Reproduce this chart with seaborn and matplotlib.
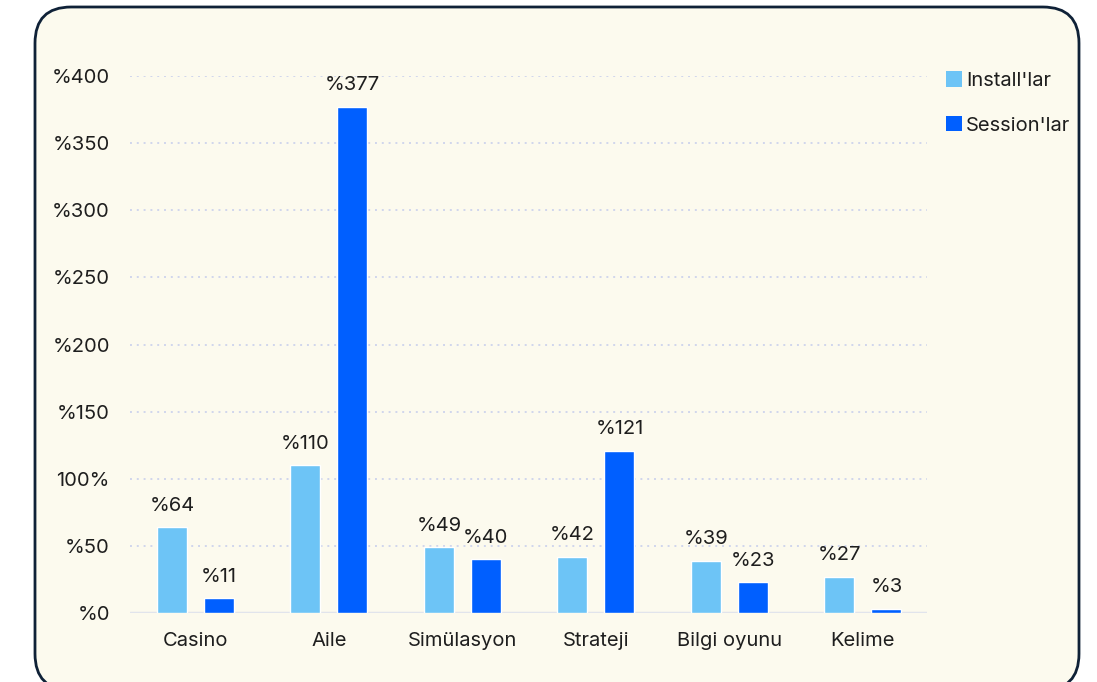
import matplotlib
matplotlib.use("Agg")
import matplotlib.pyplot as plt
from matplotlib.patches import FancyBboxPatch, Patch
import seaborn as sns
import pandas as pd

categories = ["Casino", "Aile", "Simülasyon", "Strateji", "Bilgi oyunu", "Kelime"]
installs = [64, 110, 49, 42, 39, 27]
sessions = [11, 377, 40, 121, 23, 3]
series_names = ["Install'lar", "Session'lar"]
y_ticks = [0, 50, 100, 150, 200, 250, 300, 350, 400]
y_tick_labels = ["%0", "%50", "100%", "%150", "%200", "%250", "%300", "%350", "%400"]

LIGHT = "#6DC4F6"
DARK = "#005FFF"
CARD_BG = "#FCFAEE"
TEXT = "#1E1E1E"
FS = 14.5

df = pd.DataFrame({
    "kategori": categories * 2,
    "seri": [series_names[0]] * len(categories) + [series_names[1]] * len(categories),
    "deger": installs + sessions,
})

sns.set_theme(style="white")
plt.rcParams["font.family"] = ["Inter", "DejaVu Sans"]

fig = plt.figure(figsize=(10.97, 6.82), dpi=100)
fig.patch.set_facecolor("white")

# rounded card behind the chart
card_bottom = -8 / 682
card_top = 1 - 7 / 682
card = FancyBboxPatch((35 / 1097, card_bottom), (1079 - 35) / 1097, card_top - card_bottom,
                      boxstyle="round,pad=0,rounding_size=0.033",
                      transform=fig.transFigure, facecolor=CARD_BG,
                      edgecolor="#0F2137", linewidth=2, zorder=-5,
                      mutation_aspect=1097 / 682)
fig.patches.append(card)

ax = fig.add_axes([130 / 1097, 1 - 613 / 682, (927 - 130) / 1097, (613 - 76) / 682])
ax.set_facecolor("none")
ax.set_zorder(2)

sns.barplot(data=df, x="kategori", y="deger", hue="seri", order=categories,
            hue_order=series_names, palette=[LIGHT, DARK], width=0.704, gap=0.36,
            saturation=1, errorbar=None, legend=False, ax=ax, zorder=3)

for container in ax.containers:
    ax.bar_label(container, labels=[f"%{v:g}" for v in container.datavalues],
                 padding=9, fontsize=FS, color=TEXT)

ax.set_ylim(0, 400)
ax.set_xlim(-0.49, 5.48)
ax.set_yticks(y_ticks)
ax.set_yticklabels(y_tick_labels)
ax.set_xlabel("")
ax.set_ylabel("")
ax.tick_params(axis="y", length=0, pad=14.5, labelsize=FS, labelcolor=TEXT)
ax.tick_params(axis="x", length=0, pad=14, labelsize=FS, labelcolor=TEXT)

for y in y_ticks[1:]:
    ax.axhline(y, color="#D0D6EC", linestyle=(0, (1, 2.5)), linewidth=1.4, zorder=1)
ax.axhline(0, color="#E1E4EC", linewidth=2.5, zorder=2)

for s in ax.spines.values():
    s.set_visible(False)

handles = [Patch(facecolor=LIGHT, edgecolor="none"), Patch(facecolor=DARK, edgecolor="none")]
leg = fig.legend(handles, series_names, loc="upper left", bbox_to_anchor=(928 / 1097, 1 - 53 / 682),
                 frameon=False, fontsize=FS, handlelength=0.8, handleheight=0.8,
                 handletextpad=0.2, labelspacing=1.3, labelcolor=TEXT)
leg.set_zorder(3)

fig.savefig("out.png", dpi=100, facecolor="white")
